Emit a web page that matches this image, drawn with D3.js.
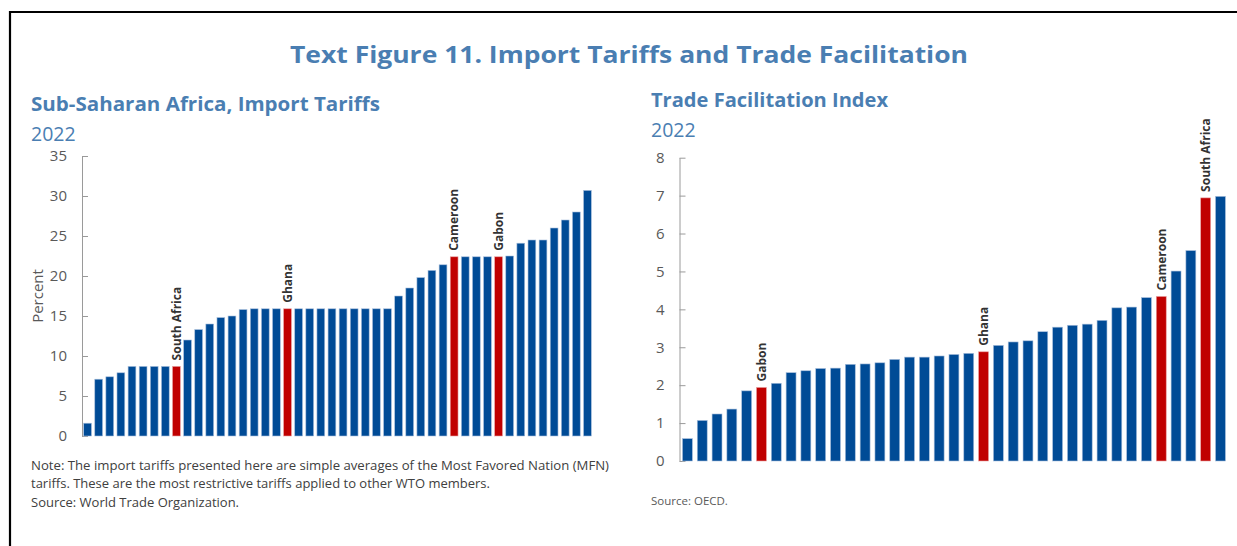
<!DOCTYPE html>
<html>
<head>
<meta charset="utf-8">
<script src="https://cdn.jsdelivr.net/npm/d3@7"></script>
<style>
  body { margin: 0; background: #fff; }
  svg { display: block; font-family: "Open Sans", "Noto Sans", sans-serif; }
</style>
</head>
<body>
<svg id="chart" width="1237" height="546"></svg>
<script>
// left panel: import tariffs, percent (sorted, one bar per country)
const tariffValues = [1.6, 7.1, 7.4, 7.9, 8.7, 8.7, 8.7, 8.7, 8.7,
  12.0, 13.3, 14.0, 14.8, 15.0, 15.8,
  15.9, 15.9, 15.9, 15.9, 15.9, 15.9, 15.9, 15.9, 15.9, 15.9, 15.9, 15.9, 15.9,
  17.5, 18.5, 19.8, 20.7, 21.4,
  22.4, 22.4, 22.4, 22.4, 22.4, 22.5,
  24.1, 24.5, 24.5, 26.0, 27.0, 28.0, 30.7];
const tariffHighlightIdx = [8, 18, 33, 37];
const tariffHighlightNames = ["South Africa", "Ghana", "Cameroon", "Gabon"];
const tariffTicks = [0, 5, 10, 15, 20, 25, 30, 35];

// right panel: trade facilitation index
const tfiValues = [0.59, 1.07, 1.24, 1.37, 1.85, 1.94, 2.05, 2.33, 2.38, 2.44,
  2.45, 2.55, 2.56, 2.59, 2.68, 2.74, 2.74, 2.77, 2.81, 2.84,
  2.88, 3.05, 3.14, 3.17, 3.41, 3.53, 3.58, 3.61, 3.71, 4.04,
  4.06, 4.31, 4.34, 5.01, 5.55, 6.94, 6.98];
const tfiHighlightIdx = [5, 20, 32, 35];
const tfiHighlightNames = ["Gabon", "Ghana", "Cameroon", "South Africa"];
const tfiTicks = [0, 1, 2, 3, 4, 5, 6, 7, 8];

const titleText = "Text Figure 11. Import Tariffs and Trade Facilitation";
const noteLines = [
  "Note: The import tariffs presented here are simple averages of the Most Favored Nation (MFN)",
  "tariffs. These are the most restrictive tariffs applied to other WTO members.",
  "Source: World Trade Organization."
];

const blue = "#004b96", red = "#c00000", titleBlue = "#4a7eb2", grey = "#595959";

const svg = d3.select("#chart");

// squeeze text to the width it has in the original
function fit(sel, w) {
  const len = sel.node().getComputedTextLength();
  if (Math.abs(len - w) > 2) sel.attr("textLength", w).attr("lengthAdjust", "spacingAndGlyphs");
  return sel;
}

// frame
svg.append("line").attr("x1", 9).attr("x2", 1237).attr("y1", 12).attr("y2", 12)
  .attr("stroke", "#000").attr("stroke-width", 2.2);
svg.append("line").attr("x1", 10).attr("x2", 10).attr("y1", 11).attr("y2", 546)
  .attr("stroke", "#000").attr("stroke-width", 2.2);

fit(svg.append("text").attr("x", 629).attr("y", 63).attr("text-anchor", "middle")
  .attr("font-size", 24).attr("font-weight", 700).attr("fill", titleBlue)
  .text(titleText), 678);

function panel(opt) {
  fit(svg.append("text").attr("x", opt.left).attr("y", opt.subY)
    .attr("font-size", 19.5).attr("font-weight", 700).attr("fill", titleBlue)
    .text(opt.title), opt.titleW);
  fit(svg.append("text").attr("x", opt.left).attr("y", opt.subY + 29.5)
    .attr("font-size", 19.5).attr("fill", titleBlue).text("2022"), 44);

  const x = d3.scaleBand()
    .domain(d3.range(opt.values.length))
    .range(opt.xRange)
    .paddingInner(opt.pad)
    .paddingOuter(opt.outer);
  const y = d3.scaleLinear().domain(opt.yDomain).range(opt.yRange);

  const ax = svg.append("g")
    .attr("transform", `translate(${opt.xRange[0]},0)`)
    .call(d3.axisLeft(y).tickValues(opt.ticks).tickSizeInner(-6).tickSizeOuter(0).tickPadding(15));
  ax.selectAll("path, line").attr("stroke", "#9a9a9a");
  ax.selectAll("text").attr("font-size", 15).attr("fill", grey)
    .attr("font-family", "'Open Sans', sans-serif");

  const hi = new Map(opt.hiIdx.map((d, i) => [d, opt.hiNames[i]]));

  svg.append("g").selectAll("rect")
    .data(opt.values)
    .join("rect")
    .attr("x", (d, i) => x(i))
    .attr("width", x.bandwidth())
    .attr("y", d => y(d))
    .attr("height", d => y(0) - y(d))
    .attr("fill", (d, i) => hi.has(i) ? red : blue)
    .attr("stroke", (d, i) => hi.has(i) ? "#e8a0a0" : "#a8bfdc")
    .attr("stroke-width", 0.6);

  svg.append("g").selectAll("text")
    .data(opt.hiIdx)
    .join("text")
    .attr("transform", i => `translate(${x(i) + x.bandwidth() / 2},${y(opt.values[i]) - 6}) rotate(-90)`)
    .attr("dy", "0.36em")
    .attr("font-size", 12)
    .attr("font-weight", 700)
    .attr("fill", "#333")
    .text(i => hi.get(i));

  return { x, y };
}

panel({
  left: 31, subY: 111, title: "Sub-Saharan Africa, Import Tariffs", titleW: 349,
  values: tariffValues, hiIdx: tariffHighlightIdx, hiNames: tariffHighlightNames,
  xRange: [82, 593], pad: 0.3, outer: 0.15,
  yDomain: [0, 35], yRange: [436, 156], ticks: tariffTicks
});

panel({
  left: 651, subY: 107, title: "Trade Facilitation Index", titleW: 237,
  values: tfiValues, hiIdx: tfiHighlightIdx, hiNames: tfiHighlightNames,
  xRange: [679.5, 1228.4], pad: 0.33, outer: 0.2,
  yDomain: [0, 8], yRange: [461, 157.7], ticks: tfiTicks
});

// y title of left panel
svg.append("text")
  .attr("transform", "translate(43,296) rotate(-90)")
  .attr("text-anchor", "middle")
  .attr("font-size", 15)
  .attr("fill", grey)
  .text("Percent");

// notes
const noteW = [578, 458, 207];
noteLines.forEach((t, i) => {
  fit(svg.append("text").attr("x", 31).attr("y", 470 + i * 18.3)
    .attr("font-size", 13).attr("fill", "#404040").text(t), noteW[i]);
});
fit(svg.append("text").attr("x", 651).attr("y", 505)
  .attr("font-size", 11.5).attr("fill", grey).text("Source: OECD."), 77);
</script>
</body>
</html>
